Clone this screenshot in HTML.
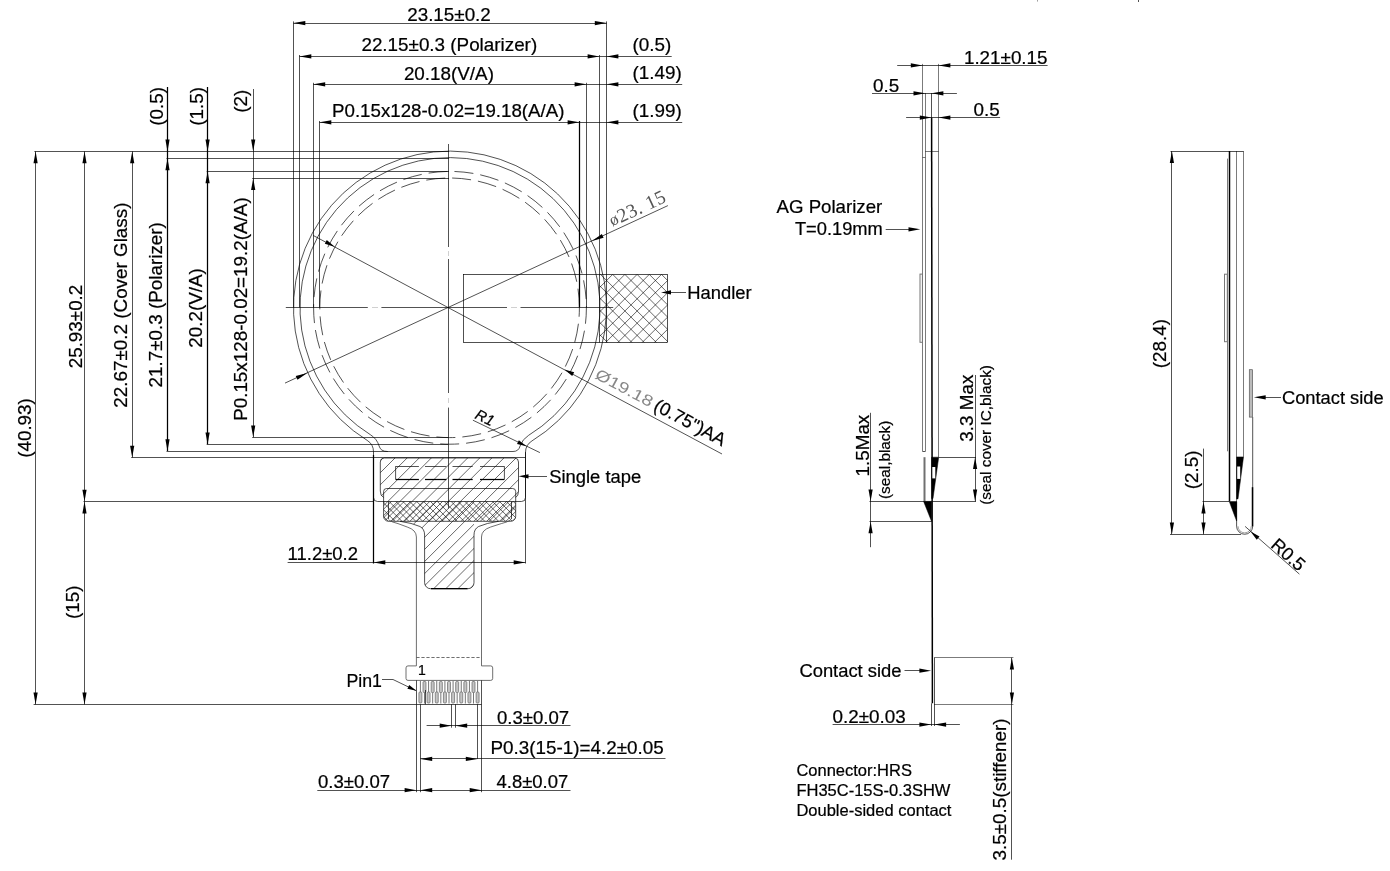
<!DOCTYPE html>
<html><head><meta charset="utf-8"><title>Drawing</title>
<style>
html,body{margin:0;padding:0;background:#fff;}
svg{display:block;filter:grayscale(1);}
.t{fill:none;stroke:#000;stroke-width:.68;}
.k{fill:none;stroke:#000;stroke-width:1.25;}
.kk{fill:none;stroke:#000;stroke-width:1.5;}
.g2{fill:none;stroke:#000;stroke-width:.52;}
.g{fill:none;stroke:#777;stroke-width:.7;}
.c{fill:none;stroke:#4a4a4a;stroke-width:.8;}
.gk{fill:none;stroke:#707070;stroke-width:2;}
.f{fill:none;stroke:#bbb;stroke-width:.7;}
.h{fill:none;stroke:#000;stroke-width:.6;}
.a{fill:#000;stroke:none;}
.b{fill:#000;stroke:#000;stroke-width:.5;}
.pn{fill:none;stroke:#777;stroke-width:1;}
.pd{fill:#c4c4c4;stroke:#666;stroke-width:.7;}
text{font-family:"Liberation Sans",sans-serif;fill:#000;}
.x{stroke:#000;stroke-width:.22;}
.cad{fill:#555;font-family:"Liberation Serif",serif;}
.cad2{fill:#888;}
</style></head><body>
<svg width="1390" height="871" viewBox="0 0 1390 871">
<rect width="1390" height="871" fill="#fff"/>
<path class="t" d="M285.80 307.50L367.80 307.50" />
<path class="t" d="M381.40 307.50L507.00 307.50" />
<path class="t" d="M520.50 307.50L613.20 307.50" />
<path class="f" d="M372.00 307.50L378.00 307.50" />
<path class="f" d="M511.00 307.50L517.00 307.50" />
<path class="t" d="M448.50 144.00L448.50 247.00" />
<path class="t" d="M448.50 259.00L448.50 393.00" />
<path class="t" d="M448.50 407.60L448.50 508.50" />
<path class="f" d="M448.50 251.00L448.50 256.00" />
<path class="f" d="M448.50 398.00L448.50 403.00" />
<path class="t" d="M373.5 451.82A13.5 13.5 0 0 0 367.15 440.37A156.5 156.5 0 1 1 531.93 440.94A13.5 13.5 0 0 0 525.5 452.44V497.5A4 4 0 0 1 521.5 501.5H377.5A4 4 0 0 1 373.5 497.5Z" />
<path class="t" d="M379.13 446.0A20.0 20.0 0 0 0 370.59 434.85A150.0 150.0 0 1 1 528.53 435.40A20.0 20.0 0 0 0 520.07 446.0Q518.67 451.5 513 451.5H387.5Q380.53 451.5 379.13 446.0" />
<circle class="t" cx="450.0" cy="307.8" r="136.4" stroke-dasharray="19 7" stroke-dashoffset="3"/>
<circle class="t" cx="449.6" cy="307.8" r="129.8" stroke-dasharray="19 7" stroke-dashoffset="10"/>
<path class="t" d="M34.40 151.50L449.00 151.50" />
<path class="t" d="M166.50 158.50L449.00 158.50" />
<path class="t" d="M206.70 171.50L449.00 171.50" />
<path class="t" d="M252.20 178.50L449.00 178.50" />
<path class="t" d="M252.20 437.50L448.00 437.50" />
<path class="t" d="M206.70 444.50L448.00 444.50" />
<path class="t" d="M166.50 451.50L388.00 451.50" />
<path class="t" d="M131.20 457.50L525.50 457.50" />
<path class="t" d="M83.50 501.50L373.50 501.50" />
<path class="t" d="M33.60 704.50L416.30 704.50" />
<path class="t" d="M293.50 21.40L293.50 307.50" />
<path class="t" d="M299.50 55.00L299.50 307.50" />
<path class="t" d="M313.50 82.80L313.50 307.50" />
<path class="t" d="M319.50 121.00L319.50 307.50" />
<path class="k" d="M579.50 121.00L579.50 307.50" />
<path class="t" d="M586.50 82.80L586.50 307.50" />
<path class="t" d="M599.50 55.00L599.50 342.50" />
<path class="t" d="M606.50 21.40L606.50 342.50" />
<path class="t" d="M293.50 23.50L606.60 23.50" />
<path class="a" d="M293.50 23.10L305.30 21.00L305.30 25.20Z"/>
<path class="a" d="M606.60 23.10L594.80 25.20L594.80 21.00Z"/>
<path class="t" d="M299.50 56.50L599.40 56.50" />
<path class="a" d="M299.50 56.40L311.30 54.30L311.30 58.50Z"/>
<path class="a" d="M599.40 56.40L587.60 58.50L587.60 54.30Z"/>
<path class="t" d="M313.40 84.50L586.40 84.50" />
<path class="a" d="M313.40 84.30L325.20 82.20L325.20 86.40Z"/>
<path class="a" d="M586.40 84.30L574.60 86.40L574.60 82.20Z"/>
<path class="t" d="M319.50 122.50L579.40 122.50" />
<path class="a" d="M319.50 122.30L331.30 120.20L331.30 124.40Z"/>
<path class="a" d="M579.40 122.30L567.60 124.40L567.60 120.20Z"/>
<path class="t" d="M599.40 56.50L671.70 56.50" />
<path class="a" d="M606.60 56.40L618.40 54.30L618.40 58.50Z"/>
<path class="t" d="M586.40 84.50L682.20 84.50" />
<path class="a" d="M606.60 84.30L618.40 82.20L618.40 86.40Z"/>
<path class="t" d="M579.40 122.50L682.20 122.50" />
<path class="a" d="M606.60 122.30L618.40 120.20L618.40 124.40Z"/>
<text class="x" font-size="18.3" text-anchor="middle" transform="translate(449.00 21.00) scale(1.03 1)" >23.15±0.2</text>
<text class="x" font-size="18.3" text-anchor="middle" transform="translate(449.30 51.30) scale(1.03 1)" >22.15±0.3 (Polarizer)</text>
<text class="x" font-size="18.3" text-anchor="middle" transform="translate(448.90 79.50) scale(1.03 1)" >20.18(V/A)</text>
<text class="x" font-size="18.3" text-anchor="middle" transform="translate(448.20 117.10) scale(1.022 1)" >P0.15x128-0.02=19.18(A/A)</text>
<text class="x" font-size="18.3" text-anchor="start" transform="translate(632.50 50.90) scale(1.03 1)" >(0.5)</text>
<text class="x" font-size="18.3" text-anchor="start" transform="translate(632.50 79.20) scale(1.03 1)" >(1.49)</text>
<text class="x" font-size="18.3" text-anchor="start" transform="translate(632.50 116.90) scale(1.03 1)" >(1.99)</text>
<path class="t" d="M35.50 151.40L35.50 704.40" />
<path class="a" d="M35.60 151.40L37.70 163.20L33.50 163.20Z"/>
<path class="a" d="M35.60 704.40L33.50 692.60L37.70 692.60Z"/>
<path class="t" d="M84.50 151.40L84.50 501.60" />
<path class="a" d="M84.50 151.40L86.60 163.20L82.40 163.20Z"/>
<path class="a" d="M84.50 501.60L82.40 489.80L86.60 489.80Z"/>
<path class="t" d="M84.50 501.60L84.50 704.40" />
<path class="a" d="M84.50 501.60L86.60 513.40L82.40 513.40Z"/>
<path class="a" d="M84.50 704.40L82.40 692.60L86.60 692.60Z"/>
<path class="t" d="M132.50 151.40L132.50 457.50" />
<path class="a" d="M132.20 151.40L134.30 163.20L130.10 163.20Z"/>
<path class="a" d="M132.20 457.50L130.10 445.70L134.30 445.70Z"/>
<path class="k" d="M167.50 86.90L167.50 451.00" />
<path class="a" d="M167.50 151.40L165.40 139.60L169.60 139.60Z"/>
<path class="a" d="M167.50 158.40L169.60 170.20L165.40 170.20Z"/>
<path class="a" d="M167.50 451.00L165.40 439.20L169.60 439.20Z"/>
<path class="k" d="M207.50 86.90L207.50 444.20" />
<path class="a" d="M207.60 151.40L205.50 139.60L209.70 139.60Z"/>
<path class="a" d="M207.60 171.50L209.70 183.30L205.50 183.30Z"/>
<path class="a" d="M207.60 444.20L205.50 432.40L209.70 432.40Z"/>
<path class="t" d="M253.50 89.00L253.50 437.30" />
<path class="a" d="M253.20 151.40L251.10 139.60L255.30 139.60Z"/>
<path class="a" d="M253.20 178.30L255.30 190.10L251.10 190.10Z"/>
<path class="a" d="M253.20 437.30L251.10 425.50L255.30 425.50Z"/>
<text class="x" font-size="18.3" text-anchor="middle" transform="translate(30.50 428.00) rotate(-90) scale(1.03 1)" >(40.93)</text>
<text class="x" font-size="18.3" text-anchor="middle" transform="translate(82.40 326.50) rotate(-90) scale(1.03 1)" >25.93±0.2</text>
<text class="x" font-size="18.3" text-anchor="middle" transform="translate(126.70 305.10) rotate(-90) scale(1.03 1)" >22.67±0.2 (Cover Glass)</text>
<text class="x" font-size="18.3" text-anchor="middle" transform="translate(161.80 304.80) rotate(-90) scale(1.03 1)" >21.7±0.3 (Polarizer)</text>
<text class="x" font-size="18.3" text-anchor="middle" transform="translate(202.40 308.00) rotate(-90) scale(1.03 1)" >20.2(V/A)</text>
<text class="x" font-size="18.3" text-anchor="middle" transform="translate(247.40 309.10) rotate(-90) scale(1.03 1)" >P0.15x128-0.02=19.2(A/A)</text>
<text class="x" font-size="18.3" text-anchor="middle" transform="translate(162.50 106.40) rotate(-90) scale(1.03 1)" >(0.5)</text>
<text class="x" font-size="18.3" text-anchor="middle" transform="translate(202.70 106.40) rotate(-90) scale(1.03 1)" >(1.5)</text>
<text class="x" font-size="18.3" text-anchor="middle" transform="translate(247.00 101.20) rotate(-90) scale(1.03 1)" >(2)</text>
<text class="x" font-size="18.3" text-anchor="middle" transform="translate(78.60 602.30) rotate(-90) scale(1.03 1)" >(15)</text>
<rect class="t" x="463.5" y="274.5" width="204" height="68"/>
<clipPath id="ch"><rect x="599.5" y="274.5" width="68" height="68"/></clipPath>
<g clip-path="url(#ch)"><path class="h" d="M486.30 270L562.30 346"/><path class="h" d="M495.10 270L419.10 346"/><path class="h" d="M498.50 270L574.50 346"/><path class="h" d="M507.30 270L431.30 346"/><path class="h" d="M510.70 270L586.70 346"/><path class="h" d="M519.50 270L443.50 346"/><path class="h" d="M522.90 270L598.90 346"/><path class="h" d="M531.70 270L455.70 346"/><path class="h" d="M535.10 270L611.10 346"/><path class="h" d="M543.90 270L467.90 346"/><path class="h" d="M547.30 270L623.30 346"/><path class="h" d="M556.10 270L480.10 346"/><path class="h" d="M559.50 270L635.50 346"/><path class="h" d="M568.30 270L492.30 346"/><path class="h" d="M571.70 270L647.70 346"/><path class="h" d="M580.50 270L504.50 346"/><path class="h" d="M583.90 270L659.90 346"/><path class="h" d="M592.70 270L516.70 346"/><path class="h" d="M596.10 270L672.10 346"/><path class="h" d="M604.90 270L528.90 346"/><path class="h" d="M608.30 270L684.30 346"/><path class="h" d="M617.10 270L541.10 346"/><path class="h" d="M620.50 270L696.50 346"/><path class="h" d="M629.30 270L553.30 346"/><path class="h" d="M632.70 270L708.70 346"/><path class="h" d="M641.50 270L565.50 346"/><path class="h" d="M644.90 270L720.90 346"/><path class="h" d="M653.70 270L577.70 346"/><path class="h" d="M657.10 270L733.10 346"/><path class="h" d="M665.90 270L589.90 346"/><path class="h" d="M669.30 270L745.30 346"/><path class="h" d="M678.10 270L602.10 346"/><path class="h" d="M681.50 270L757.50 346"/><path class="h" d="M690.30 270L614.30 346"/><path class="h" d="M693.70 270L769.70 346"/><path class="h" d="M702.50 270L626.50 346"/><path class="h" d="M705.90 270L781.90 346"/><path class="h" d="M714.70 270L638.70 346"/><path class="h" d="M718.10 270L794.10 346"/><path class="h" d="M726.90 270L650.90 346"/><path class="h" d="M730.30 270L806.30 346"/><path class="h" d="M739.10 270L663.10 346"/><path class="h" d="M742.50 270L818.50 346"/><path class="h" d="M751.30 270L675.30 346"/><path class="h" d="M754.70 270L830.70 346"/><path class="h" d="M763.50 270L687.50 346"/><path class="h" d="M766.90 270L842.90 346"/><path class="h" d="M775.70 270L699.70 346"/><path class="h" d="M779.10 270L855.10 346"/><path class="h" d="M787.90 270L711.90 346"/><path class="h" d="M791.30 270L867.30 346"/><path class="h" d="M800.10 270L724.10 346"/><path class="h" d="M803.50 270L879.50 346"/><path class="h" d="M812.30 270L736.30 346"/><path class="h" d="M815.70 270L891.70 346"/><path class="h" d="M824.50 270L748.50 346"/><path class="h" d="M827.90 270L903.90 346"/><path class="h" d="M836.70 270L760.70 346"/><path class="h" d="M840.10 270L916.10 346"/><path class="h" d="M848.90 270L772.90 346"/></g>
<path class="t" d="M667.60 292.50L686.00 292.50" />
<path class="a" d="M661.00 292.40L671.00 290.30L671.00 294.50Z"/>
<text class="x" font-size="18.3" text-anchor="start" transform="translate(687.30 299.20) scale(1.005 1)" >Handler</text>
<path class="t" d="M285.00 383.10L667.90 205.60" />
<path class="a" d="M592.02 240.92L601.84 234.05L603.61 237.87Z"/>
<path class="a" d="M307.32 372.90L297.50 379.77L295.73 375.96Z"/>
<path class="t" d="M313.10 235.40L722.00 454.00" />
<path class="a" d="M564.37 369.50L574.18 372.36L572.20 376.06Z"/>
<path class="a" d="M334.64 246.68L324.83 243.82L326.81 240.11Z"/>
<text class="cad" x="612.6" y="226.8" font-size="19.6" letter-spacing=".45" transform="rotate(-24.87 612.6 226.8)"><tspan font-size="17" dy="-.6">ø</tspan><tspan dy=".6">23. 15</tspan></text>
<text class="cad2" x="594" y="377.7" font-size="15.5" transform="rotate(28.13 594 377.7)" textLength="63" lengthAdjust="spacingAndGlyphs">Ø19.18</text>
<text class="x" x="652.5" y="409.5" font-size="18.3" transform="rotate(28.13 652.5 409.5)">(0.75")AA</text>
<path class="t" d="M472.90 420.20L539.90 452.60" />
<path class="a" d="M526.50 446.20L517.03 443.95L518.86 440.17Z"/>
<text class="x" x="474" y="418" font-size="15" transform="rotate(25.81 474 418)" font-style="italic">R1</text>
<clipPath id="ct"><path d="M384.3 458H514.5A4 4 0 0 1 518.5 462V491Q518.5 496 515.7 497.5V516.3A5 5 0 0 1 510.7 521.3H474V582.7A6 6 0 0 1 468 588.7H430.6A6 6 0 0 1 424.6 582.7V535Q424.6 529 420 526.5Q412 523 406 521.3H388.6A5 5 0 0 1 383.6 516.3V497.5Q380.3 496 380.3 491V462A4 4 0 0 1 384.3 458Z"/></clipPath>
<g clip-path="url(#ct)"><path class="h" d="M156.00 455L19.00 592"/><path class="h" d="M168.10 455L31.10 592"/><path class="h" d="M180.20 455L43.20 592"/><path class="h" d="M192.30 455L55.30 592"/><path class="h" d="M204.40 455L67.40 592"/><path class="h" d="M216.50 455L79.50 592"/><path class="h" d="M228.60 455L91.60 592"/><path class="h" d="M240.70 455L103.70 592"/><path class="h" d="M252.80 455L115.80 592"/><path class="h" d="M264.90 455L127.90 592"/><path class="h" d="M277.00 455L140.00 592"/><path class="h" d="M289.10 455L152.10 592"/><path class="h" d="M301.20 455L164.20 592"/><path class="h" d="M313.30 455L176.30 592"/><path class="h" d="M325.40 455L188.40 592"/><path class="h" d="M337.50 455L200.50 592"/><path class="h" d="M349.60 455L212.60 592"/><path class="h" d="M361.70 455L224.70 592"/><path class="h" d="M373.80 455L236.80 592"/><path class="h" d="M385.90 455L248.90 592"/><path class="h" d="M398.00 455L261.00 592"/><path class="h" d="M410.10 455L273.10 592"/><path class="h" d="M422.20 455L285.20 592"/><path class="h" d="M434.30 455L297.30 592"/><path class="h" d="M446.40 455L309.40 592"/><path class="h" d="M458.50 455L321.50 592"/><path class="h" d="M470.60 455L333.60 592"/><path class="h" d="M482.70 455L345.70 592"/><path class="h" d="M494.80 455L357.80 592"/><path class="h" d="M506.90 455L369.90 592"/><path class="h" d="M519.00 455L382.00 592"/><path class="h" d="M531.10 455L394.10 592"/><path class="h" d="M543.20 455L406.20 592"/><path class="h" d="M555.30 455L418.30 592"/><path class="h" d="M567.40 455L430.40 592"/><path class="h" d="M579.50 455L442.50 592"/><path class="h" d="M591.60 455L454.60 592"/><path class="h" d="M603.70 455L466.70 592"/><path class="h" d="M615.80 455L478.80 592"/><path class="h" d="M627.90 455L490.90 592"/><path class="h" d="M640.00 455L503.00 592"/><path class="h" d="M652.10 455L515.10 592"/><path class="h" d="M664.20 455L527.20 592"/><path class="h" d="M676.30 455L539.30 592"/><path class="h" d="M688.40 455L551.40 592"/><path class="h" d="M700.50 455L563.50 592"/><path class="h" d="M712.60 455L575.60 592"/><path class="h" d="M724.70 455L587.70 592"/><path class="h" d="M736.80 455L599.80 592"/><path class="h" d="M748.90 455L611.90 592"/></g>
<path class="t" d="M383.6 497.5Q380.3 496 380.3 491V462A4 4 0 0 1 384.3 458H514.5A4 4 0 0 1 518.5 462V491Q518.5 496 515.7 497.5" />
<path class="t" d="M400 521.3Q412 523 420 526.5Q424.6 529 424.6 535V582.7A6 6 0 0 0 430.6 588.7H468A6 6 0 0 0 474 582.7V535Q474 529 478.6 526.5Q486.6 523 498.6 521.3" />
<path class="k" d="M431.00 588.50L467.50 588.50" />
<path class="t" d="M386.6 488.5H512.7A3 3 0 0 1 515.7 491.5V516.3A5 5 0 0 1 510.7 521.3H388.6A5 5 0 0 1 383.6 516.3V491.5A3 3 0 0 1 386.6 488.5Z" />
<path class="t" d="M388.50 501.60L388.50 519.00" />
<path class="t" d="M511.50 501.60L511.50 519.00" />
<clipPath id="cc"><path d="M383.6 501.6H515.7V516.3A5 5 0 0 1 510.7 521.3H388.6A5 5 0 0 1 383.6 516.3Z"/></clipPath>
<g clip-path="url(#cc)"><path class="h" d="M316.00 500L293.00 523"/><path class="h" d="M291.00 500L314.00 523"/><path class="h" d="M322.40 500L299.40 523"/><path class="h" d="M297.90 500L320.90 523"/><path class="h" d="M328.80 500L305.80 523"/><path class="h" d="M304.80 500L327.80 523"/><path class="h" d="M335.20 500L312.20 523"/><path class="h" d="M311.70 500L334.70 523"/><path class="h" d="M341.60 500L318.60 523"/><path class="h" d="M318.60 500L341.60 523"/><path class="h" d="M348.00 500L325.00 523"/><path class="h" d="M325.50 500L348.50 523"/><path class="h" d="M354.40 500L331.40 523"/><path class="h" d="M332.40 500L355.40 523"/><path class="h" d="M360.80 500L337.80 523"/><path class="h" d="M339.30 500L362.30 523"/><path class="h" d="M367.20 500L344.20 523"/><path class="h" d="M346.20 500L369.20 523"/><path class="h" d="M373.60 500L350.60 523"/><path class="h" d="M353.10 500L376.10 523"/><path class="h" d="M380.00 500L357.00 523"/><path class="h" d="M360.00 500L383.00 523"/><path class="h" d="M386.40 500L363.40 523"/><path class="h" d="M366.90 500L389.90 523"/><path class="h" d="M392.80 500L369.80 523"/><path class="h" d="M373.80 500L396.80 523"/><path class="h" d="M399.20 500L376.20 523"/><path class="h" d="M380.70 500L403.70 523"/><path class="h" d="M405.60 500L382.60 523"/><path class="h" d="M387.60 500L410.60 523"/><path class="h" d="M412.00 500L389.00 523"/><path class="h" d="M394.50 500L417.50 523"/><path class="h" d="M418.40 500L395.40 523"/><path class="h" d="M401.40 500L424.40 523"/><path class="h" d="M424.80 500L401.80 523"/><path class="h" d="M408.30 500L431.30 523"/><path class="h" d="M431.20 500L408.20 523"/><path class="h" d="M415.20 500L438.20 523"/><path class="h" d="M437.60 500L414.60 523"/><path class="h" d="M422.10 500L445.10 523"/><path class="h" d="M444.00 500L421.00 523"/><path class="h" d="M429.00 500L452.00 523"/><path class="h" d="M450.40 500L427.40 523"/><path class="h" d="M435.90 500L458.90 523"/><path class="h" d="M456.80 500L433.80 523"/><path class="h" d="M442.80 500L465.80 523"/><path class="h" d="M463.20 500L440.20 523"/><path class="h" d="M449.70 500L472.70 523"/><path class="h" d="M469.60 500L446.60 523"/><path class="h" d="M456.60 500L479.60 523"/><path class="h" d="M476.00 500L453.00 523"/><path class="h" d="M463.50 500L486.50 523"/><path class="h" d="M482.40 500L459.40 523"/><path class="h" d="M470.40 500L493.40 523"/><path class="h" d="M488.80 500L465.80 523"/><path class="h" d="M477.30 500L500.30 523"/><path class="h" d="M495.20 500L472.20 523"/><path class="h" d="M484.20 500L507.20 523"/><path class="h" d="M501.60 500L478.60 523"/><path class="h" d="M491.10 500L514.10 523"/><path class="h" d="M508.00 500L485.00 523"/><path class="h" d="M498.00 500L521.00 523"/><path class="h" d="M514.40 500L491.40 523"/><path class="h" d="M504.90 500L527.90 523"/><path class="h" d="M520.80 500L497.80 523"/><path class="h" d="M511.80 500L534.80 523"/><path class="h" d="M527.20 500L504.20 523"/><path class="h" d="M518.70 500L541.70 523"/><path class="h" d="M533.60 500L510.60 523"/><path class="h" d="M525.60 500L548.60 523"/><path class="h" d="M540.00 500L517.00 523"/><path class="h" d="M532.50 500L555.50 523"/><path class="h" d="M546.40 500L523.40 523"/><path class="h" d="M539.40 500L562.40 523"/><path class="h" d="M552.80 500L529.80 523"/><path class="h" d="M546.30 500L569.30 523"/><path class="h" d="M559.20 500L536.20 523"/><path class="h" d="M553.20 500L576.20 523"/><path class="h" d="M565.60 500L542.60 523"/><path class="h" d="M560.10 500L583.10 523"/><path class="h" d="M572.00 500L549.00 523"/><path class="h" d="M567.00 500L590.00 523"/><path class="h" d="M578.40 500L555.40 523"/><path class="h" d="M573.90 500L596.90 523"/><path class="h" d="M584.80 500L561.80 523"/><path class="h" d="M580.80 500L603.80 523"/><path class="h" d="M591.20 500L568.20 523"/><path class="h" d="M587.70 500L610.70 523"/><path class="h" d="M597.60 500L574.60 523"/><path class="h" d="M594.60 500L617.60 523"/><path class="h" d="M604.00 500L581.00 523"/><path class="h" d="M601.50 500L624.50 523"/><path class="h" d="M610.40 500L587.40 523"/><path class="h" d="M608.40 500L631.40 523"/><path class="h" d="M616.80 500L593.80 523"/><path class="h" d="M615.30 500L638.30 523"/><path class="h" d="M623.20 500L600.20 523"/><path class="h" d="M622.20 500L645.20 523"/><path class="h" d="M629.60 500L606.60 523"/><path class="h" d="M629.10 500L652.10 523"/></g>
<path class="t" d="M395.6 466.3V479.4M504.4 466.3V479.4" />
<path class="t" d="M395.60 466.50L418.90 466.50" />
<path class="k" d="M395.60 479.50L418.90 479.50" />
<path class="t" d="M425.00 466.50L446.40 466.50" />
<path class="k" d="M425.00 479.50L446.40 479.50" />
<path class="t" d="M452.50 466.50L472.70 466.50" />
<path class="k" d="M452.50 479.50L472.70 479.50" />
<path class="t" d="M480.00 466.50L504.40 466.50" />
<path class="k" d="M480.00 479.50L504.40 479.50" />
<path class="c" d="M388.5 519.8Q392 522.3 398 523.6L407.2 527Q416.4 530 416.4 537V665.9" />
<path class="c" d="M510.8 519.8Q507.3 522.3 501.3 523.6L490.7 527Q481.5 530 481.5 537V665.9" />
<path class="k" d="M373.50 455.00L373.50 563.50" />
<path class="t" d="M525.50 452.00L525.50 563.50" />
<path class="t" d="M287.60 562.50L525.50 562.50" />
<path class="a" d="M373.50 562.40L385.30 560.30L385.30 564.50Z"/>
<path class="a" d="M525.50 562.40L513.70 564.50L513.70 560.30Z"/>
<text class="x" font-size="18.3" text-anchor="start" transform="translate(287.60 560.20) scale(1.01 1)" >11.2±0.2</text>
<path class="t" d="M526.00 476.50L547.00 476.50" />
<path class="a" d="M518.50 476.30L528.50 474.20L528.50 478.40Z"/>
<text class="x" font-size="18.3" text-anchor="start" transform="translate(549.20 482.80) scale(1.005 1)" >Single tape</text>
<path class="c" d="M416.40 657.50L481.50 657.50" stroke-dasharray="3.2 1.8"/>
<path class="c" d="M416.4 665.9H408A2 2 0 0 0 406 667.9V678.4A2 2 0 0 0 408 680.4H490.7A2 2 0 0 0 492.7 678.4V667.9A2 2 0 0 0 490.7 665.9H481.5" />
<path class="t" d="M416.50 680.40L416.50 792.20" />
<path class="t" d="M481.50 680.40L481.50 792.20" />
<path class="t" d="M416.40 704.50L481.50 704.50" />
<text class="x" x="418" y="675.4" font-size="14" fill="#333">1</text>
<path class="pn" d="M420.40 681V692"/><rect class="pd" x="418.90" y="692" width="3" height="11" rx="1"/>
<rect class="pd" x="422.99" y="681.5" width="3" height="11" rx="1"/><path class="pn" d="M424.49 692.5V703.5"/>
<path class="pn" d="M428.57 681V692"/><rect class="pd" x="427.07" y="692" width="3" height="11" rx="1"/>
<rect class="pd" x="431.16" y="681.5" width="3" height="11" rx="1"/><path class="pn" d="M432.66 692.5V703.5"/>
<path class="pn" d="M436.74 681V692"/><rect class="pd" x="435.24" y="692" width="3" height="11" rx="1"/>
<rect class="pd" x="439.33" y="681.5" width="3" height="11" rx="1"/><path class="pn" d="M440.83 692.5V703.5"/>
<path class="pn" d="M444.91 681V692"/><rect class="pd" x="443.41" y="692" width="3" height="11" rx="1"/>
<rect class="pd" x="447.50" y="681.5" width="3" height="11" rx="1"/><path class="pn" d="M449.00 692.5V703.5"/>
<path class="pn" d="M453.09 681V692"/><rect class="pd" x="451.59" y="692" width="3" height="11" rx="1"/>
<rect class="pd" x="455.67" y="681.5" width="3" height="11" rx="1"/><path class="pn" d="M457.17 692.5V703.5"/>
<path class="pn" d="M461.26 681V692"/><rect class="pd" x="459.76" y="692" width="3" height="11" rx="1"/>
<rect class="pd" x="463.84" y="681.5" width="3" height="11" rx="1"/><path class="pn" d="M465.34 692.5V703.5"/>
<path class="pn" d="M469.43 681V692"/><rect class="pd" x="467.93" y="692" width="3" height="11" rx="1"/>
<rect class="pd" x="472.01" y="681.5" width="3" height="11" rx="1"/><path class="pn" d="M473.51 692.5V703.5"/>
<path class="pn" d="M477.60 681V692"/><rect class="pd" x="476.10" y="692" width="3" height="11" rx="1"/>
<path class="t" d="M420.50 704.30L420.50 792.20" />
<path class="t" d="M425.50 690.00L425.50 704.30" />
<path class="t" d="M477.50 704.30L477.50 758.90" />
<path class="t" d="M451.50 704.30L451.50 727.70" />
<path class="t" d="M455.50 704.30L455.50 727.70" />
<path class="t" d="M426.60 725.50L570.50 725.50" />
<path class="a" d="M451.50 725.70L439.70 727.80L439.70 723.60Z"/>
<path class="a" d="M455.40 725.70L467.20 723.60L467.20 727.80Z"/>
<path class="t" d="M420.40 758.50L665.50 758.50" />
<path class="a" d="M420.40 758.90L432.20 756.80L432.20 761.00Z"/>
<path class="a" d="M477.60 758.90L465.80 761.00L465.80 756.80Z"/>
<path class="t" d="M317.30 790.50L570.50 790.50" />
<path class="a" d="M416.40 790.20L404.60 792.30L404.60 788.10Z"/>
<path class="a" d="M420.40 790.20L432.20 788.10L432.20 792.30Z"/>
<path class="a" d="M481.50 790.20L469.70 792.30L469.70 788.10Z"/>
<text class="x" font-size="18.3" text-anchor="start" transform="translate(497.00 724.30) scale(1.015 1)" >0.3±0.07</text>
<text class="x" font-size="18.3" text-anchor="start" transform="translate(490.50 753.80) scale(1.03 1)" >P0.3(15-1)=4.2±0.05</text>
<text class="x" font-size="18.3" text-anchor="start" transform="translate(496.50 788.20) scale(1.01 1)" >4.8±0.07</text>
<text class="x" font-size="18.3" text-anchor="start" transform="translate(318.00 788.20) scale(1.015 1)" >0.3±0.07</text>
<text class="x" font-size="18.3" text-anchor="start" transform="translate(346.40 686.50) scale(0.97 1)" >Pin1</text>
<path class="t" d="M382 679.5H393L416 690.6" />
<path class="a" d="M416.40 690.80L407.38 688.77L409.21 684.99Z"/>
<path class="g2" d="M922.50 63.90L922.50 451.50" />
<path class="g2" d="M925.50 93.00L925.50 451.50" />
<path class="t" d="M931.50 93.00L931.50 117.60" />
<path class="kk" d="M931.6 117.6L932.4 703.3" />
<path class="g2" d="M938.50 63.90L938.50 457.20" />
<path class="g2" d="M925.30 151.50L938.60 151.50" />
<path class="g2" d="M922.60 157.50L925.30 157.50" />
<path class="t" d="M922.60 451.50L925.30 451.50" />
<rect class="t" x="920" y="274.1" width="2.4" height="68.2" style="stroke:#777;stroke-width:1"/>
<path class="gk" d="M924.50 457.20L924.50 501.40" />
<path class="t" d="M897.20 65.50L1047.60 65.50" />
<path class="a" d="M922.60 65.40L910.80 67.50L910.80 63.30Z"/>
<path class="a" d="M938.60 65.40L950.40 63.30L950.40 67.50Z"/>
<path class="t" d="M872.00 93.50L956.90 93.50" />
<path class="a" d="M925.30 93.30L913.50 95.40L913.50 91.20Z"/>
<path class="a" d="M931.60 93.30L943.40 91.20L943.40 95.40Z"/>
<path class="t" d="M906.10 117.50L1000.10 117.50" />
<path class="a" d="M931.60 117.60L919.80 119.70L919.80 115.50Z"/>
<path class="a" d="M938.60 117.60L950.40 115.50L950.40 119.70Z"/>
<text class="x" font-size="18.3" text-anchor="start" transform="translate(963.90 63.60) scale(1.03 1)" >1.21±0.15</text>
<text class="x" font-size="18.3" text-anchor="start" transform="translate(873.00 91.60) scale(1.03 1)" >0.5</text>
<text class="x" font-size="18.3" text-anchor="start" transform="translate(973.60 116.10) scale(1.03 1)" >0.5</text>
<text class="x" font-size="18.3" text-anchor="start" transform="translate(776.50 212.60) scale(1.02 1)" >AG Polarizer</text>
<text class="x" font-size="18.3" text-anchor="start" transform="translate(794.90 235.40) scale(1.0 1)" >T=0.19mm</text>
<path class="t" d="M885.70 229.50L915.00 229.50" />
<path class="a" d="M920.30 229.30L908.50 231.40L908.50 227.20Z"/>
<path class="b" d="M931.6 457.2H938.7L933 498.5H931.6Z" />
<rect x="932.3" y="467" width="3" height="11.4" fill="#fff"/>
<path class="b" d="M923.6 501.4H931.6V521.5Z" />
<path class="t" d="M938.70 457.50L976.00 457.50" />
<path class="t" d="M869.50 501.50L976.00 501.50" />
<path class="t" d="M869.50 521.50L931.60 521.50" />
<path class="t" d="M975.50 375.00L975.50 501.40" />
<path class="a" d="M975.10 457.20L977.20 469.00L973.00 469.00Z"/>
<path class="a" d="M975.10 501.40L973.00 489.60L977.20 489.60Z"/>
<path class="t" d="M870.50 412.80L870.50 547.20" />
<path class="a" d="M870.60 501.40L868.50 489.60L872.70 489.60Z"/>
<path class="a" d="M870.60 521.40L872.70 533.20L868.50 533.20Z"/>
<text class="x" font-size="18.3" text-anchor="middle" transform="translate(973.20 408.20) rotate(-90) scale(1.03 1)" >3.3 Max</text>
<text class="x" font-size="14.9" text-anchor="middle" transform="translate(990.50 434.90) rotate(-90) scale(1.03 1)" >(seal cover IC,black)</text>
<text class="x" font-size="18.3" text-anchor="middle" transform="translate(869.20 445.60) rotate(-90) scale(1.03 1)" >1.5Max</text>
<text class="x" font-size="14.9" text-anchor="middle" transform="translate(889.90 459.90) rotate(-90) scale(1.03 1)" >(seal,black)</text>
<path class="t" d="M931.50 703.30L931.50 726.00" />
<path class="t" d="M934.50 657.70L934.50 726.00" />
<path class="g2" d="M934.1 657.5H1013.4M934.1 704.5H1013.4" />
<path class="t" d="M1011.50 657.70L1011.50 859.70" />
<path class="a" d="M1011.90 657.70L1014.00 669.50L1009.80 669.50Z"/>
<path class="a" d="M1011.90 704.20L1009.80 692.40L1014.00 692.40Z"/>
<text class="x" font-size="18.3" text-anchor="middle" transform="translate(1005.50 789.50) rotate(-90) scale(1.03 1)" >3.5±0.5(stiffener)</text>
<text class="x" font-size="18.3" text-anchor="start" transform="translate(799.40 676.50) scale(1.005 1)" >Contact side</text>
<path class="t" d="M904.50 670.50L925.00 670.50" />
<path class="a" d="M931.20 670.70L919.40 672.80L919.40 668.60Z"/>
<path class="t" d="M832.60 724.50L959.90 724.50" />
<path class="a" d="M931.20 724.60L919.40 726.70L919.40 722.50Z"/>
<path class="a" d="M934.30 724.60L946.10 722.50L946.10 726.70Z"/>
<text class="x" font-size="18.3" text-anchor="start" transform="translate(832.60 723.20) scale(1.03 1)" >0.2±0.03</text>
<text class="x" font-size="16.5" text-anchor="start" transform="translate(796.40 776.00) scale(1.0 1)" >Connector:HRS</text>
<text class="x" font-size="16.5" text-anchor="start" transform="translate(796.40 796.00) scale(1.0 1)" >FH35C-15S-0.3SHW</text>
<text class="x" font-size="16.5" text-anchor="start" transform="translate(796.40 816.10) scale(1.0 1)" >Double-sided contact</text>
<path class="t" d="M1170.50 151.50L1243.50 151.50" />
<path class="t" d="M1171.50 151.10L1171.50 534.30" />
<path class="a" d="M1171.90 151.10L1174.00 162.90L1169.80 162.90Z"/>
<path class="a" d="M1171.90 534.30L1169.80 522.50L1174.00 522.50Z"/>
<path class="g2" d="M1227.50 158.60L1227.50 451.30" />
<path class="kk" d="M1229.50 151.10L1229.50 501.60" />
<path class="g2" d="M1236.50 151.10L1236.50 520.00" />
<path class="g2" d="M1243.50 151.10L1243.50 456.90" />
<rect class="t" x="1224.5" y="274.2" width="2.8" height="67.5" style="stroke:#777;stroke-width:1"/>
<path class="b" d="M1236.6 456.9H1243.5L1238 498.9H1236.6Z" />
<rect x="1237.2" y="466.5" width="3" height="12.4" fill="#fff"/>
<path class="b" d="M1229.3 501.6H1236.6V521Z" />
<path class="t" d="M1236.6 501.6V526.2A8.05 8.05 0 0 0 1252.7 526.2V417" />
<path class="kk" d="M1252.50 487.20L1252.50 526.40" />
<path class="g" d="M1238 526.2A6.6 6.6 0 0 0 1251.3 526.2" />
<rect class="t" x="1249.3" y="369.7" width="3.3" height="47.4" style="stroke:#555;fill:#bbb"/>
<path class="t" d="M1170.00 534.50L1241.00 534.50" />
<path class="t" d="M1202.50 501.50L1229.30 501.50" />
<path class="t" d="M1203.50 448.60L1203.50 534.30" />
<path class="a" d="M1203.50 501.60L1205.60 513.40L1201.40 513.40Z"/>
<path class="a" d="M1203.50 534.30L1201.40 522.50L1205.60 522.50Z"/>
<text class="x" font-size="18.3" text-anchor="middle" transform="translate(1197.90 469.80) rotate(-90) scale(1.03 1)" >(2.5)</text>
<text class="x" font-size="18.3" text-anchor="middle" transform="translate(1165.90 343.60) rotate(-90) scale(1.03 1)" >(28.4)</text>
<path class="t" d="M1260.00 397.50L1281.00 397.50" />
<path class="a" d="M1253.90 397.30L1265.70 395.20L1265.70 399.40Z"/>
<text class="x" font-size="18.3" text-anchor="start" transform="translate(1282.00 403.90) scale(1.0 1)" >Contact side</text>
<path class="t" d="M1245.10 526.40L1299.40 574.10" />
<path class="a" d="M1250.60 531.50L1259.50 536.52L1256.73 539.68Z"/>
<text class="x" x="1269.7" y="546.5" font-size="18.3" transform="rotate(41.30 1269.7 546.5)">R0.5</text>
<path class="g" d="M1037.50 0.00L1037.50 1.60" />
<path class="t" d="M1138.50 0.00L1138.50 2.00" />
</svg>
</body></html>
